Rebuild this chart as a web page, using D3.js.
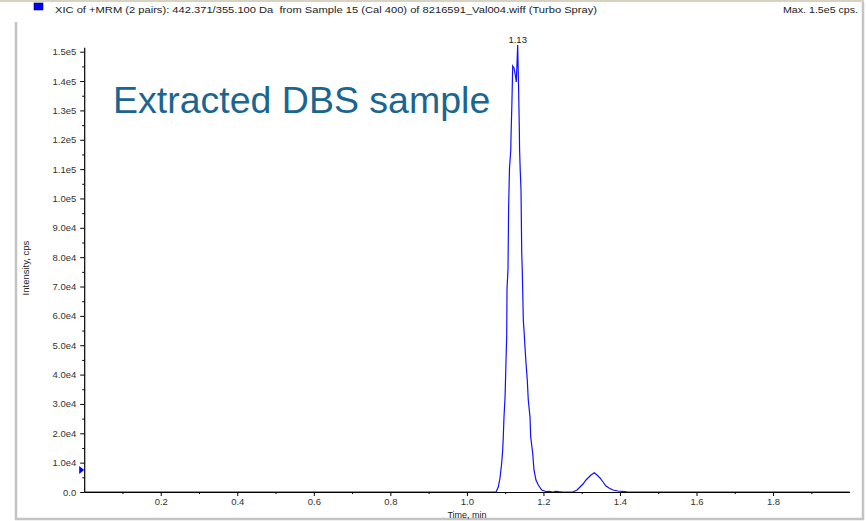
<!DOCTYPE html>
<html>
<head>
<meta charset="utf-8" />
<script src="https://d3js.org/d3.v7.min.js"></script>
<style>
  body { margin: 0; background: #fff; }
  svg text { font-family: "Liberation Sans", Arial, sans-serif; }
</style>
</head>
<body>
<script>
// XIC trace: retention time (min) and intensity (cps)
const times = [0, 1.07, 1.0761, 1.0820, 1.0865, 1.0909, 1.0935, 1.0951, 1.0969, 1.0996, 1.1009,
  1.1022, 1.1040, 1.1048, 1.1074, 1.1090, 1.1113, 1.1147, 1.1152, 1.1178, 1.1197,
  1.1231, 1.1270, 1.1291, 1.1327, 1.1348, 1.1369, 1.1377, 1.1393, 1.1414, 1.1432,
  1.1448, 1.1474, 1.1492, 1.1518, 1.1544, 1.1578, 1.1604, 1.1649, 1.1667, 1.1719,
  1.1753, 1.1805, 1.1866, 1.1955, 1.2085, 1.215, 1.225, 1.232, 1.24, 1.25,
  1.276, 1.2780, 1.2877, 1.2956, 1.3034, 1.3112, 1.3191, 1.3243, 1.3329, 1.3400,
  1.3478, 1.3557, 1.3635, 1.3713, 1.3818, 1.3948, 1.4131, 1.42, 2.0];
const intensity = [0, 0, 0, 1700, 4770, 9880, 14310, 18740, 25550, 32030, 38160,
  44970, 52810, 69160, 75970, 96760, 110380, 116520, 120600, 133550, 145130,
  144450, 141730, 139690, 152290, 139350, 124360, 116520, 109700, 102890, 81770,
  74950, 58600, 55190, 49400, 43950, 38160, 31340, 25550, 18740, 13290,
  7500, 4090, 2380, 680, 100, 200, 0, 250, 100, 0,
  0, 100, 680, 1700, 2730, 4090, 5110, 5790, 6580, 5790,
  4770, 3410, 2040, 1360, 680, 340, 100, 0, 0];

const xMajor = [0.2, 0.4, 0.6, 0.8, 1.0, 1.2, 1.4, 1.6, 1.8];
const xMinor = [0.1, 0.3, 0.5, 0.7, 0.9, 1.1, 1.3, 1.5, 1.7, 1.9];
const yMajor = [0, 10000, 20000, 30000, 40000, 50000, 60000, 70000, 80000,
  90000, 100000, 110000, 120000, 130000, 140000, 150000];
const yMinor = [5000, 15000, 25000, 35000, 45000, 55000, 65000, 75000, 85000,
  95000, 105000, 115000, 125000, 135000, 145000];

const peakTime = 1.1327, peakText = "1.13";
const thresholdLevel = 7500;

const headerText = "XIC of +MRM (2 pairs): 442.371/355.100 Da  from Sample 15 (Cal 400) of 8216591_Val004.wiff (Turbo Spray)";
const maxText = "Max. 1.5e5 cps.";
const overlayText = "Extracted DBS sample";

const W = 866, H = 521;
const svg = d3.select("body").append("svg")
  .attr("width", W).attr("height", H);

// outer frame
svg.append("rect").attr("x", 0).attr("y", 0).attr("width", W).attr("height", H).attr("fill", "#fff");
svg.append("line").attr("x1", 0).attr("x2", 864).attr("y1", 1).attr("y2", 1)
  .attr("stroke", "#d8d2c2").attr("stroke-width", 2);
svg.append("line").attr("x1", 16).attr("x2", 16).attr("y1", 22).attr("y2", 520)
  .attr("stroke", "#c4c4c4").attr("stroke-width", 2.5);
svg.append("line").attr("x1", 863).attr("x2", 863).attr("y1", 2).attr("y2", 520)
  .attr("stroke", "#c4c4c4").attr("stroke-width", 2.5);
svg.append("line").attr("x1", 15).attr("x2", 864).attr("y1", 519).attr("y2", 519)
  .attr("stroke", "#c4c4c4").attr("stroke-width", 2.5);

const x = d3.scaleLinear().domain([0, 2.0]).range([84.2, 849.6]);
const y = d3.scaleLinear().domain([0, 151500]).range([492, 47.3]);

// header
svg.append("rect").attr("x", 34).attr("y", 3).attr("width", 9).attr("height", 7)
  .attr("fill", "#0000ee").attr("stroke", "#000080").attr("stroke-width", 0.6);
svg.append("text").attr("x", 55).attr("y", 13)
  .style("white-space", "pre")
  .attr("font-size", 9).attr("fill", "#222")
  .attr("textLength", 542).attr("lengthAdjust", "spacingAndGlyphs")
  .text(headerText);
svg.append("text").attr("x", 858).attr("y", 13)
  .attr("text-anchor", "end").attr("font-size", 9)
  .attr("textLength", 75).attr("lengthAdjust", "spacingAndGlyphs")
  .attr("fill", "#222")
  .text(maxText);

// trace
const pts = times.map((t, i) => [t, intensity[i]]);
const line = d3.line().x(d => x(d[0])).y(d => y(d[1]));
svg.append("path").datum(pts)
  .attr("d", line)
  .attr("fill", "none")
  .attr("stroke", "#1010ff")
  .attr("stroke-width", 1.2);

// axes
const fmtY = v => v === 0 ? "0.0" : d3.format(".1e")(v).replace("e+", "e");
const xAxis = svg.append("g").attr("transform", `translate(0,${y(0)})`)
  .call(d3.axisBottom(x).tickValues(xMajor).tickSize(4).tickSizeOuter(0)
    .tickFormat(d3.format(".1f")));
svg.append("g").attr("transform", `translate(0,${y(0)})`)
  .call(d3.axisBottom(x).tickValues(xMinor).tickSize(2).tickFormat(""))
  .call(g => g.select(".domain").remove());
const yAxis = svg.append("g").attr("transform", `translate(${x(0)},0)`)
  .call(d3.axisLeft(y).tickValues(yMajor).tickSize(4).tickSizeOuter(0)
    .tickFormat(fmtY));
svg.append("g").attr("transform", `translate(${x(0)},0)`)
  .call(d3.axisLeft(y).tickValues(yMinor).tickSize(2).tickFormat(""))
  .call(g => g.select(".domain").remove());

svg.selectAll(".tick text").attr("font-size", 9.5).attr("fill", "#333")
  .attr("font-family", "Liberation Sans, Arial, sans-serif");
xAxis.selectAll(".tick text").attr("y", 6).attr("dy", "0.78em");
yAxis.selectAll(".tick text").attr("dx", "-0.1em");
svg.selectAll(".domain").attr("stroke", "#000").attr("stroke-width", 1.2);

// axis titles
svg.append("text").attr("x", 467).attr("y", 517.5)
  .attr("text-anchor", "middle").attr("font-size", 9).attr("fill", "#222")
  .text("Time, min");
svg.append("text")
  .attr("transform", `translate(29,${268}) rotate(-90)`)
  .attr("text-anchor", "middle").attr("font-size", 9.5).attr("fill", "#222")
  .text("Intensity, cps");

// threshold marker on the y axis
const tY = y(thresholdLevel), tX = x(0);
svg.append("path")
  .attr("d", `M${tX - 5},${tY - 4}L${tX},${tY}L${tX - 5},${tY + 4}Z`)
  .attr("fill", "#0000ff");

// peak label
svg.append("text").attr("x", x(peakTime)).attr("y", 43)
  .attr("text-anchor", "middle").attr("font-size", 9.5).attr("fill", "#222")
  .text(peakText);

// overlay caption
svg.append("text").attr("x", 113).attr("y", 113)
  .attr("font-size", 37.5).attr("fill", "#1b6690")
  .text(overlayText);
</script>
</body>
</html>
